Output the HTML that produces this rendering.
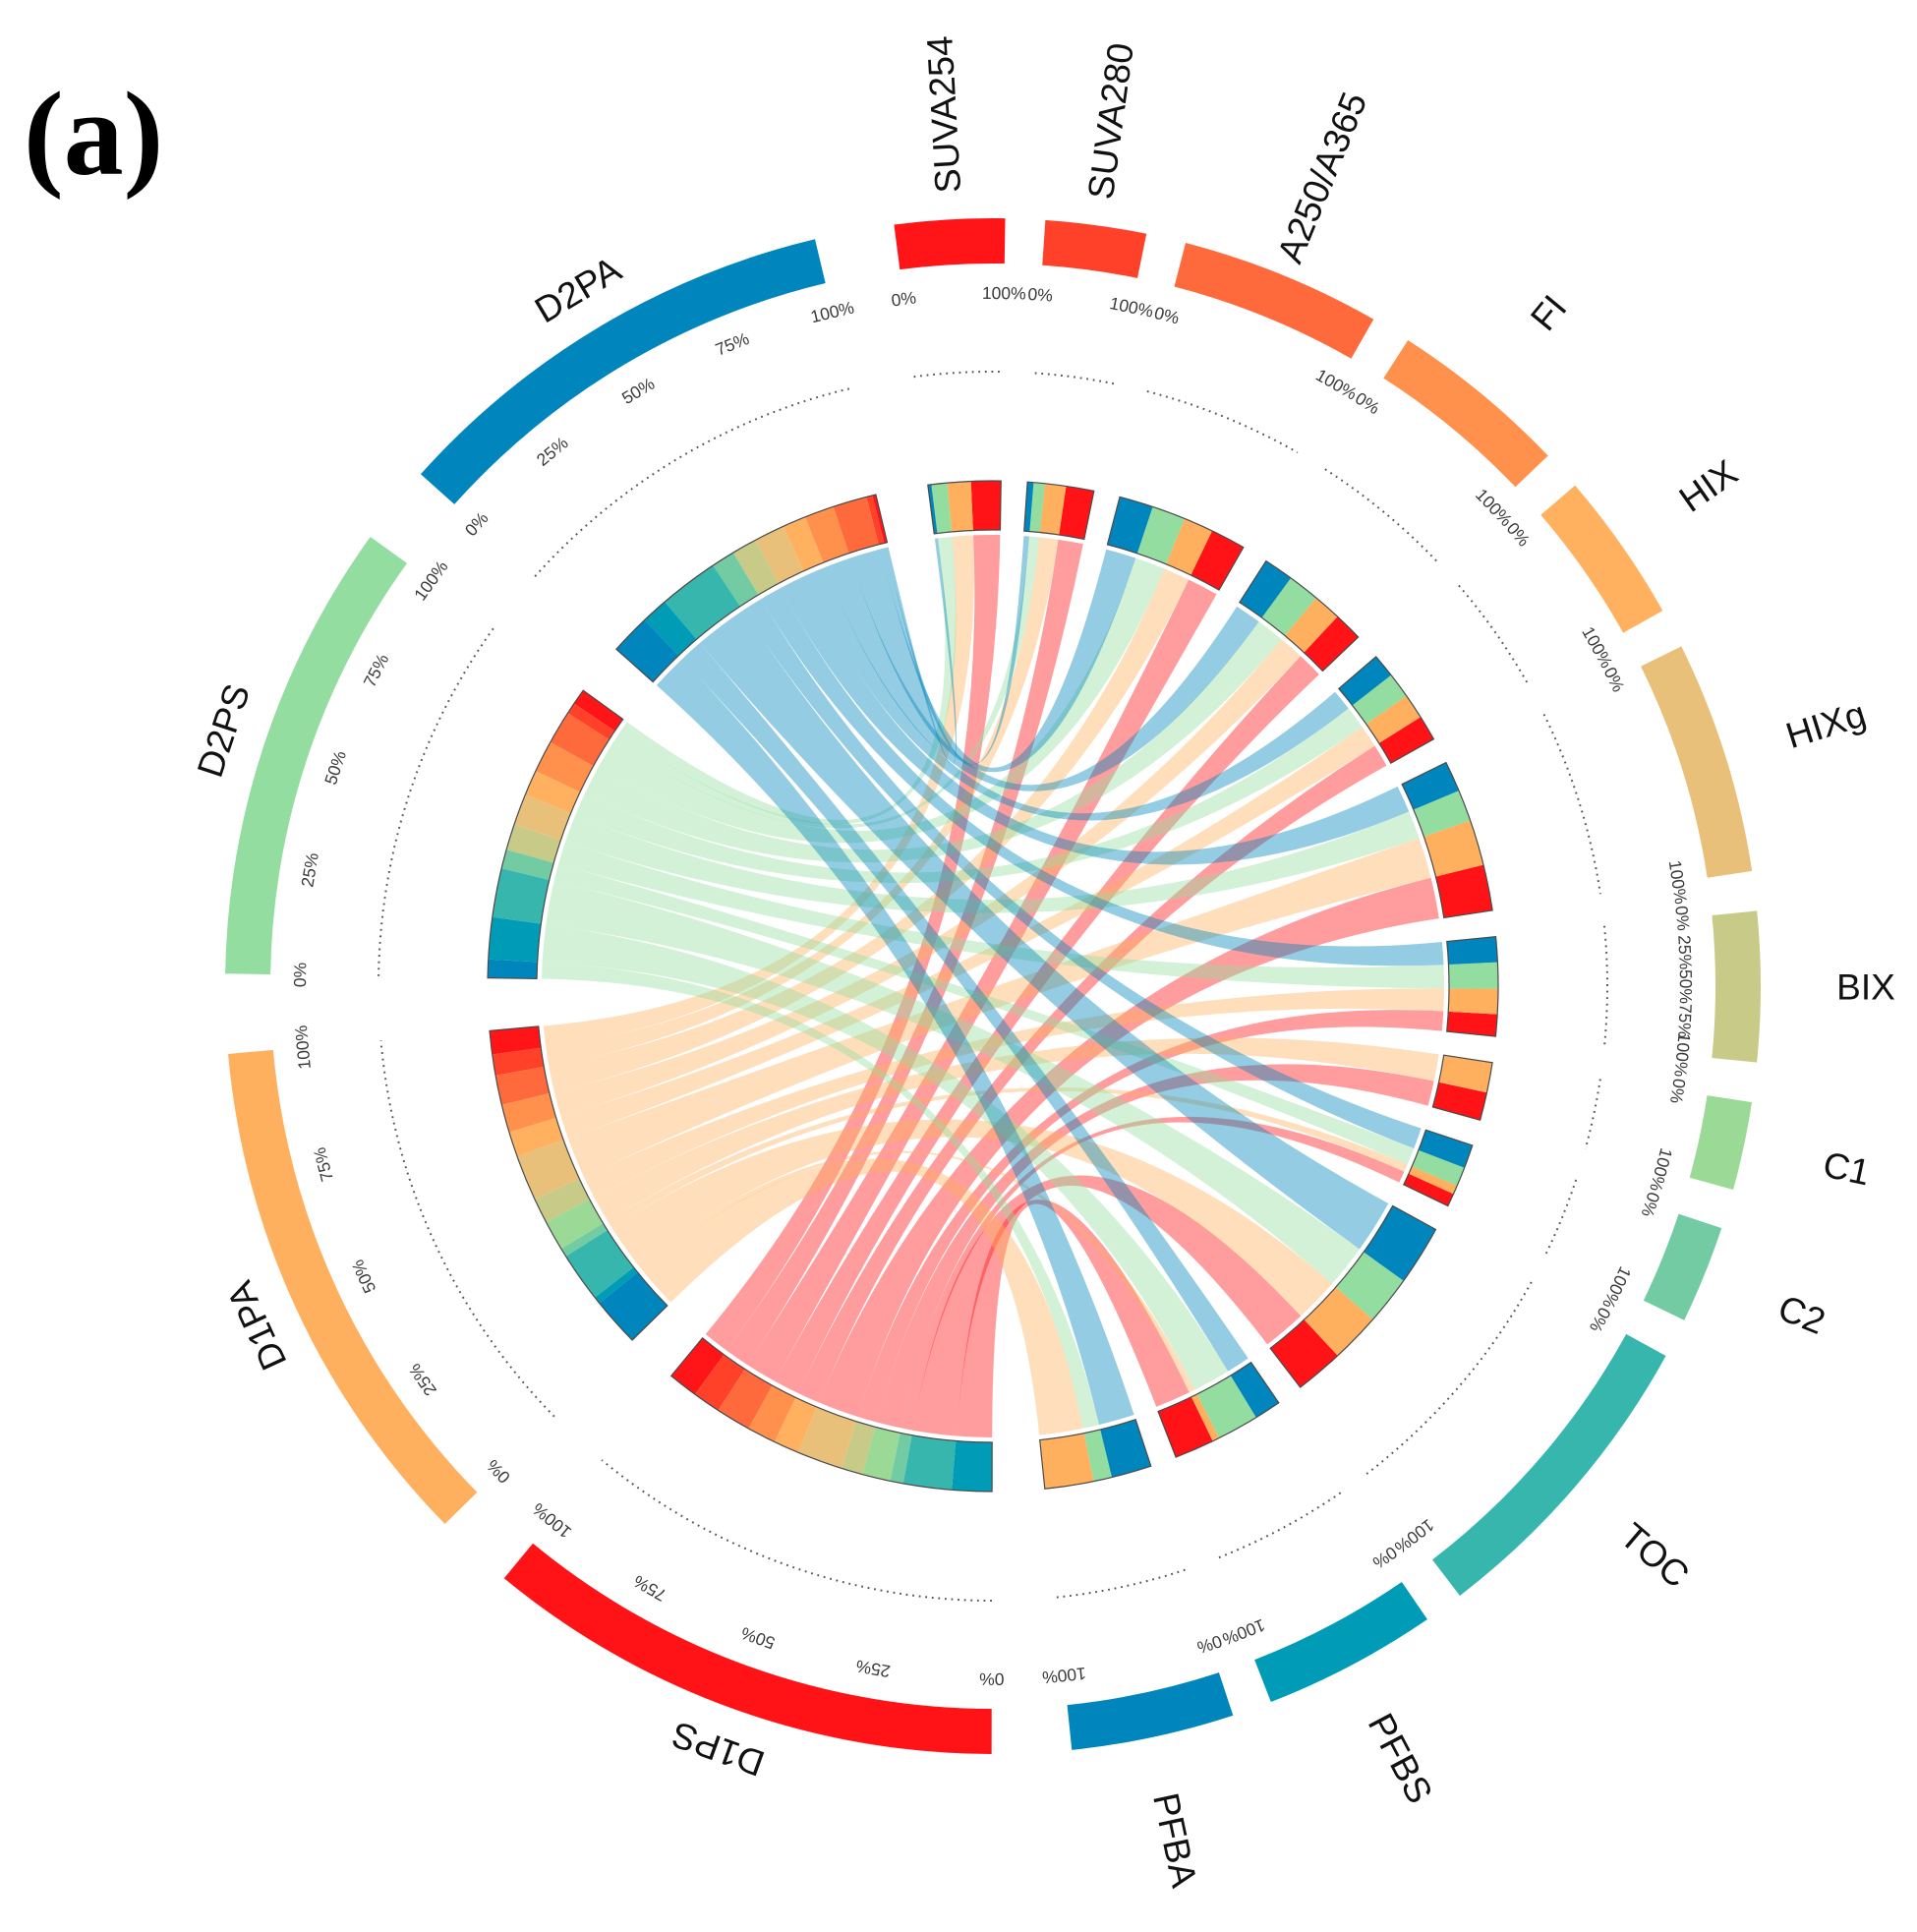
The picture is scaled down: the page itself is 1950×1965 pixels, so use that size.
<!DOCTYPE html>
<html lang="en">
<head>
<meta charset="utf-8">
<title>Chord diagram (a)</title>
<style>
  html, body { margin: 0; padding: 0; background: #ffffff; }
  svg { display: block; }
  .sector-label { font-family: "Liberation Sans", sans-serif; font-size: 37px; fill: #111111; }
  .tick-label { font-family: "Liberation Sans", sans-serif; font-size: 17.5px; fill: #3a3a3a; }
  .panel-label { font-family: "Liberation Serif", serif; font-size: 122px; font-weight: bold; fill: #000000; }
</style>
</head>
<body>
<svg id="chart" xmlns="http://www.w3.org/2000/svg" width="1950" height="1965" viewBox="0 0 1950 1965">
  <rect width="1950" height="1965" fill="#ffffff"></rect>
  <text class="panel-label" x="24" y="177">(a)</text>
</svg>
<script>
// ---- chart data ----
const targets = ['SUVA254', 'SUVA280', 'A250/A365', 'FI', 'HIX', 'HIXg', 'BIX', 'C1', 'C2', 'TOC', 'PFBS', 'PFBA'];
const sources = ['D1PS', 'D1PA', 'D2PS', 'D2PA'];
const d1psFlows = [3.4, 3.2, 4.0, 3.3, 2.9, 5.25, 2.5, 3.2, 1.5, 5.55, 4.55, 0];
const d1paFlows = [2.7, 2.4, 3.4, 3.2, 2.9, 5.25, 2.9, 3.45, 1.0, 5.7, 0.8, 5.6];
const d2psFlows = [1.8, 1.3, 3.85, 3.65, 2.9, 3.6, 3.0, 0, 2.2, 5.6, 4.8, 2.1];
const d2paFlows = [0.4, 0.7, 3.9, 3.4, 2.7, 3.5, 2.9, 0, 2.7, 6.85, 3.05, 4.6];
const targetColors = ['#ff1418', '#ff4129', '#ff6a3c', '#ff914d', '#ffb15f', '#e8c079', '#c7cb87', '#9bd996', '#73cba4', '#36b6ac', '#009cb7', '#0085bc'];
const sourceColors = ['#ff1317', '#ffb05e', '#93dda0', '#0085bc'];
const fullTicks = [0, 25, 50, 75, 100];
const endTicks = [0, 100];
const fullTickSectors = ['D1PS', 'D1PA', 'D2PS', 'D2PA', 'BIX'];

// ---- geometry ----
const svg = document.getElementById('chart');
const NS = 'http://www.w3.org/2000/svg';
const CX = 1010, CY = 1003;
const R_TRACK_OUT = 781, R_TRACK_IN = 735;
const R_TICK = 705, R_DOTS = 625;
const R_RING_OUT = 514, R_RING_IN = 464, R_RIBBON = 459;
const R_LABEL_RADIAL = 888, R_LABEL_TANGENT = 825;
const START_ANGLE = -7.4;
const flowRows = [d1psFlows, d1paFlows, d2psFlows, d2paFlows];

function sum(list) { return list.reduce(function (a, b) { return a + b; }, 0); }
function polar(deg, r) {
  const t = deg * Math.PI / 180;
  return [CX + r * Math.sin(t), CY - r * Math.cos(t)];
}
function fmt(p) { return p[0].toFixed(2) + ' ' + p[1].toFixed(2); }
function arcTo(a0, a1, r) {
  const large = Math.abs(a1 - a0) > 180 ? 1 : 0;
  const sweep = a1 > a0 ? 1 : 0;
  return 'A' + r + ' ' + r + ' 0 ' + large + ' ' + sweep + ' ' + fmt(polar(a1, r));
}
function bandPath(a0, a1, r0, r1) {
  return 'M' + fmt(polar(a0, r1)) + arcTo(a0, a1, r1) + 'L' + fmt(polar(a1, r0)) + arcTo(a1, a0, r0) + 'Z';
}
function edgeTo(a1, r) {
  return 'Q' + CX + ' ' + CY + ' ' + fmt(polar(a1, r));
}
function ribbonPath(s0, s1, t0, t1, r) {
  return 'M' + fmt(polar(s0, r)) + arcTo(s0, s1, r) + edgeTo(t0, r) + arcTo(t0, t1, r) + edgeTo(s0, r) + 'Z';
}
function shape(tag, parent) {
  const el = document.createElementNS(NS, tag);
  parent.appendChild(el);
  return el;
}
function slug(s) { return s.toLowerCase().replace(/[^a-z0-9]+/g, '-'); }

// ---- layout: sector spans follow the flow totals ----
const targetTotals = targets.map(function (_, j) { return sum(flowRows.map(function (row) { return row[j]; })); });
const sourceTotals = flowRows.map(sum);
const names = targets.concat(sources);
const totals = targetTotals.concat(sourceTotals);
const colors = targetColors.concat(sourceColors);
const gapAfter = names.map(function (_, i) { return i >= targets.length - 1 ? 6 : 3; });
const unit = (360 - sum(gapAfter)) / sum(totals);
const spans = [];
(function () {
  let a = START_ANGLE;
  names.forEach(function (_, i) {
    spans.push([a, a + totals[i] * unit]);
    a += totals[i] * unit + gapAfter[i];
  });
})();

// per-flow angular slots
const targetSlots = targets.map(function () { return []; });
const sourceSlots = sources.map(function () { return []; });
targets.forEach(function (_, j) {
  let a = spans[j][0];
  for (let i = sources.length - 1; i >= 0; i--) {
    const w = flowRows[i][j] * unit;
    targetSlots[j][i] = [a, a + w];
    a += w;
  }
});
sources.forEach(function (_, i) {
  let a = spans[targets.length + i][0];
  for (let j = targets.length - 1; j >= 0; j--) {
    const w = flowRows[i][j] * unit;
    sourceSlots[i][j] = [a, a + w];
    a += w;
  }
});

// ---- ribbons (drawn first, blue ends on top) ----
const ribbonLayer = shape('g', svg);


sources.forEach(function (src, i) {
  targets.forEach(function (tgt, j) {
    if (flowRows[i][j] <= 0) return;
    const s = sourceSlots[i][j], t = targetSlots[j][i];
    const el = shape('path', ribbonLayer);
    el.setAttribute('d', ribbonPath(s[0], s[1], t[0], t[1], R_RIBBON));
    el.setAttribute('fill', sourceColors[i]);
    el.setAttribute('fill-opacity', '0.42');
    
    
  });
});

// ---- sectors ----
names.forEach(function (name, n) {
  const a0 = spans[n][0], a1 = spans[n][1], mid = (a0 + a1) / 2;
  const isSource = n >= targets.length;
  const group = shape('g', svg);
  
  

  // outer coloured track
  const track = shape('path', group);
  track.setAttribute('d', bandPath(a0, a1, R_TRACK_IN, R_TRACK_OUT));
  track.setAttribute('fill', colors[n]);
  
  

  // dotted guide circle
  const dots = shape('path', group);
  dots.setAttribute('d', 'M' + fmt(polar(a0, R_DOTS)) + arcTo(a0, a1, R_DOTS));
  dots.setAttribute('fill', 'none');
  dots.setAttribute('stroke', '#555555');
  dots.setAttribute('stroke-width', '2');
  dots.setAttribute('stroke-dasharray', '1.8 4.8');
  
  

  // stacked composition ring
  if (isSource) {
    const i = n - targets.length;
    targets.forEach(function (tgt, j) {
      if (flowRows[i][j] <= 0) return;
      const s = sourceSlots[i][j];
      const seg = shape('path', group);
      seg.setAttribute('d', bandPath(s[0], s[1], R_RING_IN, R_RING_OUT));
      seg.setAttribute('fill', targetColors[j]);
      
      
    });
  } else {
    sources.forEach(function (src, i) {
      if (flowRows[i][n] <= 0) return;
      const t = targetSlots[n][i];
      const seg = shape('path', group);
      seg.setAttribute('d', bandPath(t[0], t[1], R_RING_IN, R_RING_OUT));
      seg.setAttribute('fill', sourceColors[i]);
      
      
    });
  }
  const outline = shape('path', group);
  outline.setAttribute('d', bandPath(a0, a1, R_RING_IN, R_RING_OUT));
  outline.setAttribute('fill', 'none');
  outline.setAttribute('stroke', '#4a4a4a');
  outline.setAttribute('stroke-width', '1.2');
  
  

  // sector label
  const tangent = isSource;
  const lp = polar(mid, tangent ? R_LABEL_TANGENT : R_LABEL_RADIAL);
  const rot = tangent ? mid : mid - 90;
  const label = shape('text', group);
  label.setAttribute('class', 'sector-label');
  label.setAttribute('x', lp[0].toFixed(2));
  label.setAttribute('y', lp[1].toFixed(2));
  label.setAttribute('dy', '0.35em');
  label.setAttribute('text-anchor', 'middle');
  label.setAttribute('transform', 'rotate(' + rot.toFixed(2) + ' ' + lp[0].toFixed(2) + ' ' + lp[1].toFixed(2) + ')');
  
  
  label.textContent = name;

  // percent ticks
  const ticks = fullTickSectors.indexOf(name) >= 0 ? fullTicks : endTicks;
  ticks.forEach(function (pct) {
    const a = a0 + (a1 - a0) * pct / 100;
    const p = polar(a, R_TICK);
    const tick = shape('text', group);
    tick.setAttribute('class', 'tick-label');
    tick.setAttribute('x', p[0].toFixed(2));
    tick.setAttribute('y', p[1].toFixed(2));
    tick.setAttribute('dy', '0.35em');
    tick.setAttribute('text-anchor', 'middle');
    tick.setAttribute('transform', 'rotate(' + a.toFixed(2) + ' ' + p[0].toFixed(2) + ' ' + p[1].toFixed(2) + ')');
    
    
    tick.textContent = pct + '%';
  });
});
</script>
</body>
</html>
